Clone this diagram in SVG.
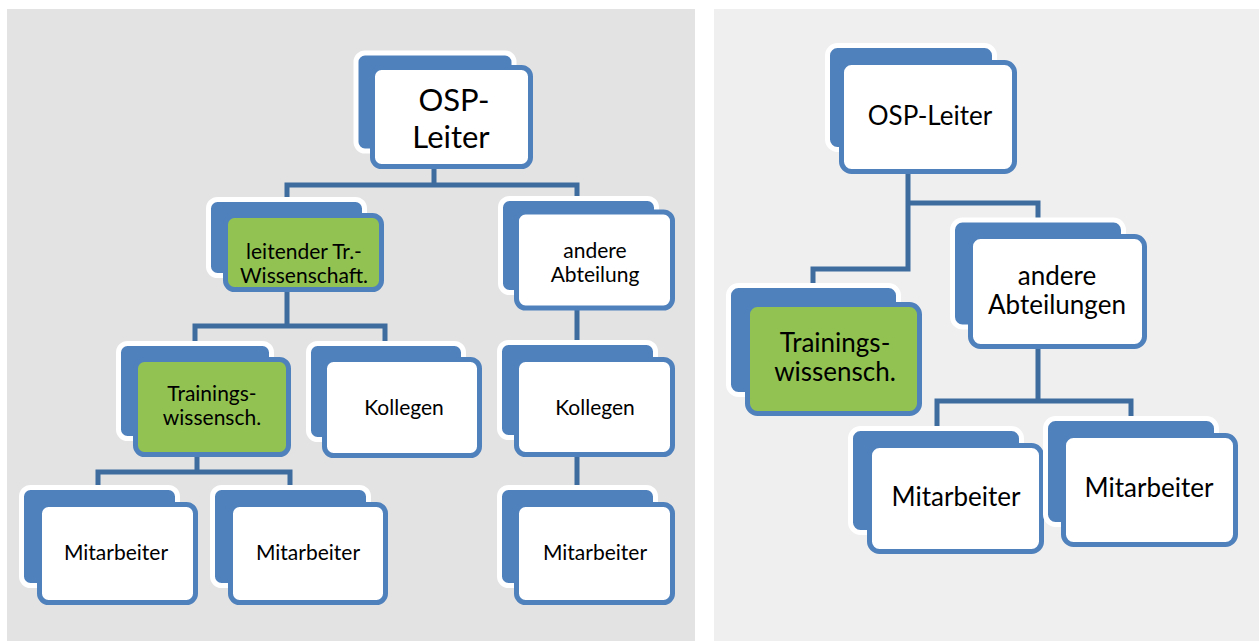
<svg xmlns="http://www.w3.org/2000/svg" width="1259" height="641" viewBox="0 0 1259 641">
<style>
.back{fill:#4f81bd;stroke:#ffffff;stroke-width:5}
.front{fill:#ffffff;stroke:#4f81bd;stroke-width:5}
.green{fill:#92c352}
.conn{fill:none;stroke:#3f6c9f;stroke-width:5;stroke-linejoin:miter}
text{font-family:Lato,"Open Sans","Liberation Sans",sans-serif;fill:#000;text-anchor:middle}
.s21{font-size:21px}
.s26{font-size:26px}
.s31{font-size:31px}
</style>
<rect x="0" y="0" width="1259" height="641" fill="#ffffff"/>
<rect x="7" y="9" width="688" height="632" fill="#e3e3e3"/>
<rect x="714" y="9" width="545" height="632" fill="#efefef"/>

<g id="connectors">
<path class="conn" d="M434 167 V185 M287 199 V185 H577 V198"/>
<path class="conn" d="M287 290 V326 M195 343 V326 H385 V343"/>
<path class="conn" d="M197 455 V472 M98 487 V472 H290 V487"/>
<path class="conn" d="M577 309 V343 M577 455 V488"/>
<path class="conn" d="M908 172 V269 H813 V286 M908 203 H1038 V220"/>
<path class="conn" d="M1038 347 V401 M937 428 V401 H1131 V418"/>
</g>

<g id="l-osp">
<rect class="back" x="356" y="53" width="158" height="98" rx="9"/>
<rect class="front" x="372.5" y="67.5" width="158" height="99" rx="9"/>
<text class="s31" x="454" y="111">OSP-</text>
<text class="s31" x="451" y="148">Leiter</text>
</g>
<g id="l-leitender">
<rect class="back" x="208.5" y="199.5" width="156" height="76" rx="9"/>
<rect class="front green" x="225.5" y="215.5" width="156" height="74" rx="9"/>
<text class="s21" x="304" y="259">leitender Tr.-</text>
<text class="s21" x="304" y="283">Wissenschaft.</text>
</g>
<g id="l-andere">
<rect class="back" x="500.5" y="198.5" width="156" height="94" rx="9"/>
<rect class="front" x="516.5" y="212" width="156" height="96" rx="9"/>
<text class="s21" x="595" y="258">andere</text>
<text class="s21" x="595" y="282">Abteilung</text>
</g>
<g id="l-trainings">
<rect class="back" x="118.5" y="343.5" width="153" height="95" rx="9"/>
<rect class="front green" x="135.5" y="359.5" width="153" height="95" rx="9"/>
<text class="s21" x="212" y="401">Trainings-</text>
<text class="s21" x="212" y="425">wissensch.</text>
</g>
<g id="l-kollegen1">
<rect class="back" x="308.5" y="343.5" width="155" height="96" rx="9"/>
<rect class="front" x="324.5" y="359.5" width="155" height="96" rx="9"/>
<text class="s21" x="404" y="415">Kollegen</text>
</g>
<g id="l-kollegen2">
<rect class="back" x="499.5" y="342.5" width="156" height="95" rx="9"/>
<rect class="front" x="516.5" y="359.5" width="156" height="95" rx="9"/>
<text class="s21" x="595" y="415">Kollegen</text>
</g>
<g id="l-mit1">
<rect class="back" x="21.5" y="487.5" width="156" height="98" rx="9"/>
<rect class="front" x="39.5" y="504.5" width="156" height="98" rx="9"/>
<text class="s21" x="116" y="560">Mitarbeiter</text>
</g>
<g id="l-mit2">
<rect class="back" x="212.5" y="487.5" width="156" height="98" rx="9"/>
<rect class="front" x="230.5" y="504.5" width="155" height="98" rx="9"/>
<text class="s21" x="308" y="560">Mitarbeiter</text>
</g>
<g id="l-mit3">
<rect class="back" x="499.5" y="487.5" width="156" height="98" rx="9"/>
<rect class="front" x="516.5" y="504.5" width="156" height="98" rx="9"/>
<text class="s21" x="595" y="560">Mitarbeiter</text>
</g>

<g id="r-osp">
<rect class="back" x="827.5" y="45.5" width="167" height="104" rx="10"/>
<rect class="front" x="841.5" y="62.5" width="173" height="109" rx="10"/>
<text class="s26" x="930" y="125">OSP-Leiter</text>
</g>
<g id="r-andere">
<rect class="back" x="952.5" y="220" width="171" height="107" rx="10"/>
<rect class="front" x="970.5" y="236.5" width="174" height="110" rx="10"/>
<text class="s26" x="1057" y="285">andere</text>
<text class="s26" x="1057" y="314">Abteilungen</text>
</g>
<g id="r-trainings">
<rect class="back" x="728.5" y="285.5" width="170" height="109" rx="10"/>
<rect class="front green" x="747.5" y="304.5" width="172" height="109" rx="10"/>
<text class="s26" x="835" y="352">Trainings-</text>
<text class="s26" x="835" y="381">wissensch.</text>
</g>
<g id="r-mit1">
<rect class="back" x="850.5" y="428.5" width="171" height="104" rx="10"/>
<rect class="front" x="869.5" y="445.5" width="172" height="106" rx="10"/>
<text class="s26" x="956" y="506">Mitarbeiter</text>
</g>
<g id="r-mit2">
<rect class="back" x="1045.5" y="418.5" width="171" height="106" rx="10"/>
<rect class="front" x="1063.5" y="435.5" width="172" height="109" rx="10"/>
<text class="s26" x="1149" y="497">Mitarbeiter</text>
</g>
</svg>
